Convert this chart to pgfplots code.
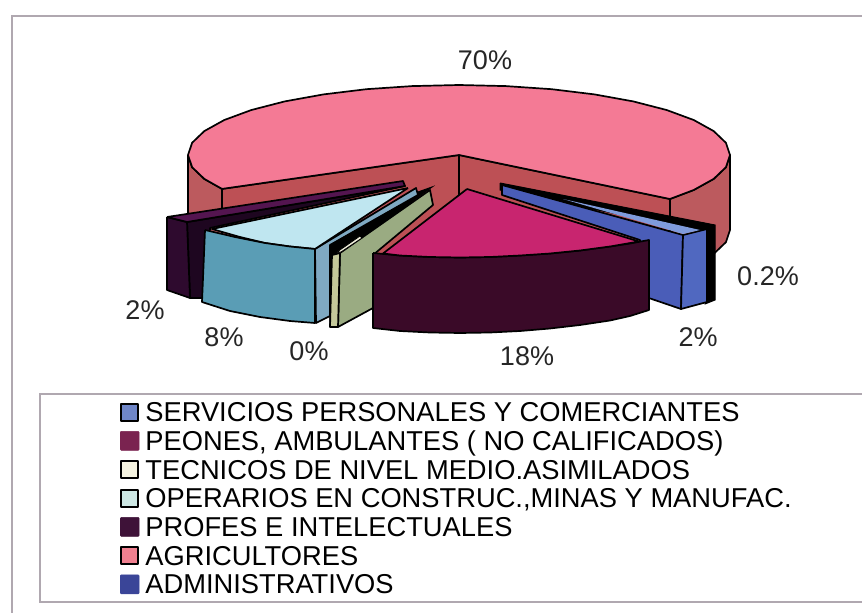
\documentclass[border=0pt]{standalone}
\usepackage{pgfplots}
\pgfplotsset{compat=1.18}
\usepackage{fontspec}
\setmainfont{Liberation Sans}
\definecolor{pinktop}{HTML}{F47A95}
\definecolor{wallo}{HTML}{BC5A5E}
\definecolor{walli}{HTML}{BD5055}
\definecolor{purtop}{HTML}{541550}
\definecolor{purside}{HTML}{2E0A2E}
\definecolor{purrad}{HTML}{1E0620}
\definecolor{blutop}{HTML}{7F9BDC}
\definecolor{blurad}{HTML}{4A5DB8}
\definecolor{bluout}{HTML}{5068C0}
\definecolor{lbtop}{HTML}{BFE6F0}
\definecolor{lbout}{HTML}{5A9DB5}
\definecolor{lbrad}{HTML}{7FA9C2}
\definecolor{khtop}{HTML}{F0EEDC}
\definecolor{khout}{HTML}{C4C89A}
\definecolor{khrad}{HTML}{9AAB82}
\definecolor{magtop}{HTML}{C8256F}
\definecolor{magside}{HTML}{3A0A28}
\definecolor{framec}{HTML}{B0A8B0}
\definecolor{lgA}{HTML}{6F86C8}
\definecolor{lgB}{HTML}{7A2350}
\definecolor{lgC}{HTML}{F5F3E0}
\definecolor{lgD}{HTML}{CDE8E4}
\definecolor{lgE}{HTML}{3E1238}
\definecolor{lgF}{HTML}{F08090}
\definecolor{lgG}{HTML}{3A4598}
\newcommand{\lab}{\fontsize{27bp}{27bp}\selectfont}
\tikzset{pc/.style={draw=black,line width=1.7bp,line join=round}}
\pgfplotsset{
 sq/.style={legend image code/.code={\draw[fill=#1,draw=black,line width=2bp,line join=round] (1bp,1bp) rectangle (18bp,18bp);}},
 sqn/.style={legend image code/.code={\fill[#1,rounded corners=1bp] (0bp,0bp) rectangle (19bp,19bp);}}
}
\begin{document}
\begin{tikzpicture}
\begin{axis}[
 width=862bp,height=613bp,scale only axis,
 xmin=0,xmax=862,ymin=0,ymax=613,y dir=reverse,
 hide axis,clip=true,
 legend cell align=left,
 legend style={at={(axis cs:120,401)},anchor=north west,draw=none,fill=none,inner sep=0pt,outer sep=0pt,
   row sep=-0.1bp,column sep=0pt,/tikz/column 1/.style={column sep=6bp},
   nodes={inner sep=0pt,outer sep=0pt,anchor=base west,text height=20.6bp,text depth=8.2bp,font=\fontsize{27.3bp}{27.3bp}\selectfont}},
]
% page background and frames
\addplot[forget plot,fill=white,draw=none] coordinates {(0,0)(862,0)(862,613)(0,613)(0,0)};
\addplot[forget plot,framec,line width=1.5bp] coordinates {(12,613)(12,16)(862,16)};
\addplot[forget plot,framec,line width=1.5bp] coordinates {(862,394)(40,394)(40,602)(862,602)};
% agricultores: walls
\addplot[forget plot,pc,fill=wallo] coordinates {(670,199)(693.7,190)(713.7,178.9)(725.9,167.2)(730,155)(730,230)(725.9,242.2)(713.7,253.9)(693.7,265)(670,274)(670,199)};
\addplot[forget plot,pc,fill=wallo] coordinates {(188,155)(192.1,167.2)(204.3,178.9)(222,188.9)(222,264)(204.3,253.9)(192.1,242.2)(188,230)(188,155)};
\addplot[forget plot,pc,fill=walli] coordinates {(222,188.9)(459,155)(459,230)(222,264)(222,188.9)};
\addplot[forget plot,pc,fill=walli] coordinates {(459,155)(670,199)(670,274)(459,230)(459,155)};
\addplot[forget plot,draw=none,fill=walli] coordinates {(433,205)(373,254)(385,254)(467,192)(433,205)};
% agricultores: top
\addplot[forget plot,pc,fill=pinktop] coordinates {(459,155)(669.9,199)(693.7,190)(713.7,178.9)(725.9,167.2)(730,155)(725.9,142.8)(713.7,131.1)(693.7,120)(666.6,110)(633.2,101.4)(594.5,94.4)(551.7,89.2)(506,86.1)(459,85)(412,86.1)(366.3,89.2)(323.5,94.4)(284.8,101.4)(251.4,110)(224.3,120)(204.3,131.1)(192.1,142.8)(188,155)(192.1,167.2)(204.3,178.9)(222,188.9)(459,155)};
% profes
\addplot[forget plot,pc,fill=purrad] coordinates {(187,222)(405,186)(210,228)(206,298)(190,298)(187,222)};
\addplot[forget plot,pc,fill=purside] coordinates {(167,217)(187,222)(190,298)(167,290)(167,217)};
\addplot[forget plot,pc,fill=purtop] coordinates {(167,217)(403,181)(405,186)(187,222)(167,217)};
% administrativos (black sliver) and servicios
\addplot[forget plot,draw=black,fill=black,line width=1bp] coordinates {(500,183)(715,225)(715,300)(705,304)(705,232)(500,190)(500,183)};
\addplot[forget plot,pc,fill=blurad] coordinates {(502,185)(683,235)(681,309)(640,295)(640,240)(502,195)(502,185)};
\addplot[forget plot,pc,fill=bluout] coordinates {(683,235)(707,229)(707,302)(681,309)(683,235)};
\addplot[forget plot,draw=none,fill=blutop] coordinates {(563,199)(700,230)(683,234)(563,199)};
% operarios
\addplot[forget plot,draw=black,fill=black,line width=1bp] coordinates {(328,245)(418,192)(432,187)(340,253)(332,256)(330,327)(328,245)};
\addplot[forget plot,pc,fill=lbrad] coordinates {(315,249)(416,188)(418,195)(330,245)(330,316)(316,323)(315,249)};
\addplot[forget plot,pc,fill=lbtop] coordinates {(408,188)(212,229)(240,237)(265,243)(290,246.5)(315,249)(408,188)};
\addplot[forget plot,pc,fill=lbout] coordinates {(205,230)(235,237)(265,243)(290,246.5)(315,249)(315,323)(290,321)(260,317)(230,311)(202,302)(205,230)};
% tecnicos
\addplot[forget plot,pc,fill=khrad] coordinates {(340,253)(430,190)(433,205)(373,255)(373,308)(338,327)(340,253)};
\addplot[forget plot,pc,fill=khout] coordinates {(332,255)(340,253)(338,327)(330,327)(332,255)};
\addplot[forget plot,draw=black,fill=khtop,line width=.8bp] coordinates {(337,252)(360,236)(362,238)(341,252)(337,252)};
% peones
\addplot[forget plot,pc,fill=magside] coordinates {(373,253)(400,255.5)(430,257)(460,257.5)(490,257)(520,255.5)(550,253.5)(580,250.5)(610,246.5)(630,243.5)(649,240)(649,310)(630,316)(610,320.5)(580,325)(550,328.5)(520,331)(490,332.5)(460,333)(430,332.5)(400,331)(373,328)(373,253)};
\addplot[forget plot,pc,fill=magtop] coordinates {(467,189)(383,253.5)(400,255.5)(430,257)(460,257.5)(490,257)(520,255.5)(550,253.5)(580,250.5)(610,246.5)(639,241.5)(467,189)};
% labels
\node[font=\lab,text=black!85] at (axis cs:485,60) {70\%};
\node[font=\lab,text=black!85] at (axis cs:768,276) {0.2\%};
\node[font=\lab,text=black!85] at (axis cs:145,310) {2\%};
\node[font=\lab,text=black!85] at (axis cs:224,337) {8\%};
\node[font=\lab,text=black!85] at (axis cs:309,351) {0\%};
\node[font=\lab,text=black!85] at (axis cs:527,356) {18\%};
\node[font=\lab,text=black!85] at (axis cs:698,337) {2\%};
% legend
\addlegendimage{sq=lgA}
\addlegendentry{SERVICIOS PERSONALES Y COMERCIANTES}
\addlegendimage{sqn=lgB}
\addlegendentry{PEONES, AMBULANTES ( NO CALIFICADOS)}
\addlegendimage{sq=lgC}
\addlegendentry{TECNICOS DE NIVEL MEDIO.ASIMILADOS}
\addlegendimage{sq=lgD}
\addlegendentry{OPERARIOS EN CONSTRUC.,MINAS Y MANUFAC.}
\addlegendimage{sqn=lgE}
\addlegendentry{PROFES E INTELECTUALES}
\addlegendimage{sq=lgF}
\addlegendentry{AGRICULTORES}
\addlegendimage{sqn=lgG}
\addlegendentry{ADMINISTRATIVOS}
\end{axis}
\end{tikzpicture}
\end{document}
